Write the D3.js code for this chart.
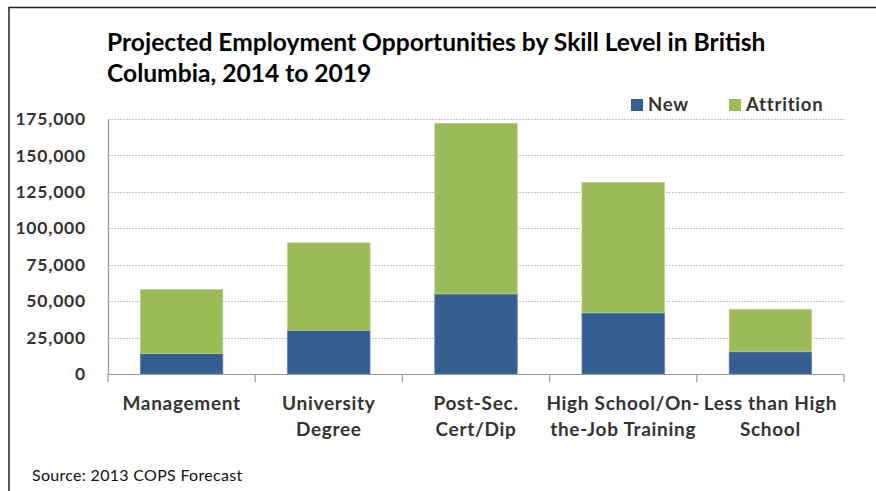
<!DOCTYPE html>
<html>
<head>
<meta charset="utf-8">
<script src="https://cdn.jsdelivr.net/npm/d3@7"></script>
<style>
  html, body { margin: 0; padding: 0; background: #fff; }
  svg { display: block; }
  text { font-family: Lato, "Open Sans", sans-serif; fill: #333; }
</style>
</head>
<body>
<svg id="chart" width="876" height="491"></svg>
<script>
// Skill levels (each label split into its two display lines)
const categories = [
  ["Management"],
  ["University", "Degree"],
  ["Post-Sec.", "Cert/Dip"],
  ["High School/On-", "the-Job Training"],
  ["Less than High", "School"]
];
const seriesNames = ["New", "Attrition"];
const newJobs = [14000, 30000, 55000, 42000, 15300];
const attrition = [44000, 60000, 117000, 89500, 29100];
const yTicks = [0, 25000, 50000, 75000, 100000, 125000, 150000, 175000];
const colors = ["#365f91", "#9bbb59"];

const svg = d3.select("#chart");
const W = 876, H = 491;
const margin = { left: 108, right: 32, top: 119, bottom: 117 };
const plotW = W - margin.left - margin.right;
const plotH = H - margin.top - margin.bottom;

// Outer frame (top and left edges)
svg.append("path")
  .attr("d", `M9,${H} L9,7.5 L${W},7.5`)
  .attr("fill", "none").attr("stroke", "#222").attr("stroke-width", 1.5);

// Title
const title = svg.append("text")
  .attr("x", 107).attr("y", 51)
  .style("font-size", "24.6px").style("font-weight", "bold").style("fill", "#000");
title.append("tspan").attr("x", 107).text("Projected Employment Opportunities by Skill Level in British");
title.append("tspan").attr("x", 107).attr("dy", 31).text("Columbia, 2014 to 2019");

const g = svg.append("g").attr("transform", `translate(${margin.left},${margin.top})`);

const x = d3.scaleBand().domain(d3.range(categories.length)).range([0, plotW])
  .paddingInner(0.44).paddingOuter(0.22);
const xBands = d3.scaleBand().domain(d3.range(categories.length)).range([0, plotW]);
const y = d3.scaleLinear().domain([0, 175000]).range([plotH, 0]);

// Gridlines
g.append("g").selectAll("line").data(yTicks.filter(d => d > 0)).join("line")
  .attr("x1", 0).attr("x2", plotW)
  .attr("y1", d => Math.round(y(d)) + 0.5).attr("y2", d => Math.round(y(d)) + 0.5)
  .attr("stroke", "#c4c4c4").attr("stroke-dasharray", "2,1");

// Stacked bars
const rows = categories.map((c, i) => ({ i, New: newJobs[i], Attrition: attrition[i] }));
const stack = d3.stack().keys(seriesNames)(rows);
g.append("g").selectAll("g").data(stack).join("g")
  .attr("fill", (d, k) => colors[k])
  .attr("stroke", (d, k) => k === 0 ? "#5a7fab" : "#b9d08a")
  .attr("stroke-width", 0.8)
  .selectAll("rect").data(d => d).join("rect")
  .attr("x", d => x(d.data.i))
  .attr("width", x.bandwidth())
  .attr("y", d => y(d[1]))
  .attr("height", d => y(d[0]) - y(d[1]));

// Y axis
const yAxis = g.append("g")
  .call(d3.axisLeft(y).tickValues(yTicks).tickSize(0).tickPadding(22)
    .tickFormat(d3.format(",")));
yAxis.select(".domain").attr("stroke", "#999").attr("stroke-width", 1.2);
yAxis.selectAll("text").style("font-size", "17.5px").style("font-weight", "bold")
  .style("letter-spacing", "0.8px")
  .style("font-family", "Lato, sans-serif").attr("fill", "#333");

// X axis with ticks at band boundaries
const xa = g.append("g").attr("transform", `translate(0,${plotH})`);
xa.append("line").attr("x1", 0).attr("x2", plotW).attr("y1", 0.5).attr("y2", 0.5)
  .attr("stroke", "#999").attr("stroke-width", 1.2);
xa.selectAll("line.tick").data(d3.range(categories.length + 1)).join("line")
  .attr("class", "tick")
  .attr("x1", i => i < categories.length ? xBands(i) : plotW)
  .attr("x2", i => i < categories.length ? xBands(i) : plotW)
  .attr("y1", 0).attr("y2", 8)
  .attr("stroke", "#999").attr("stroke-width", 1.2);
const labels = xa.selectAll("text.cat").data(categories).join("text")
  .attr("class", "cat")
  .attr("text-anchor", "middle")
  .attr("y", 36)
  .style("font-size", "19px").style("font-weight", "bold")
  .style("letter-spacing", "0.7px");
labels.each(function(lines, i) {
  const cx = xBands(i) + xBands.bandwidth() / 2;
  d3.select(this).selectAll("tspan").data(lines).join("tspan")
    .attr("x", cx).attr("dy", (d, k) => k === 0 ? 0 : 26).text(d => d);
});

// Legend
const legend = svg.append("g");
const legendX = [631, 729];
seriesNames.forEach((name, k) => {
  legend.append("rect").attr("x", legendX[k]).attr("y", 99).attr("width", 12).attr("height", 12)
    .attr("fill", colors[k]);
  legend.append("text").attr("x", legendX[k] + 17).attr("y", 111)
    .style("font-size", "18.5px").style("font-weight", "bold")
    .style("letter-spacing", "0.8px").text(name);
});

// Source note
svg.append("text").attr("x", 32).attr("y", 481)
  .style("font-size", "16px").style("letter-spacing", "0.3px")
  .style("fill", "#111").text("Source: 2013 COPS Forecast");
</script>
</body>
</html>
